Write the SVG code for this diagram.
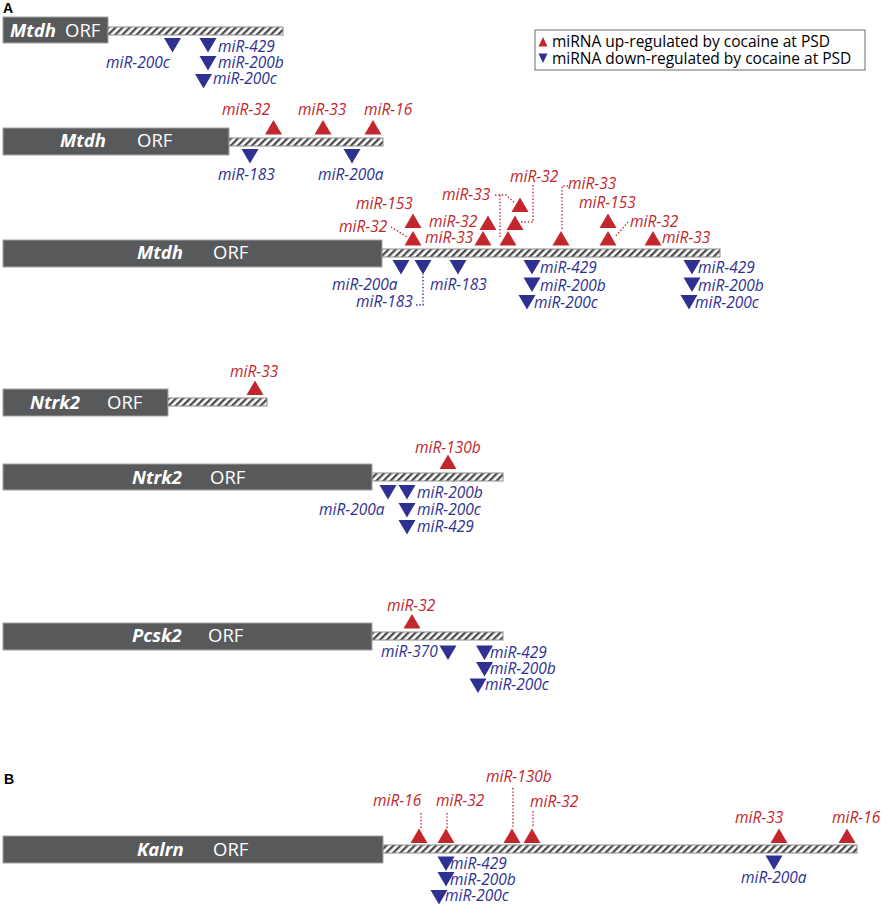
<svg xmlns="http://www.w3.org/2000/svg" xmlns:xlink="http://www.w3.org/1999/xlink" width="886" height="910" viewBox="0 0 886 910">
<defs>
<pattern id="hatch" patternUnits="userSpaceOnUse" width="5" height="5" patternTransform="rotate(45)">
<rect width="5" height="5" fill="#ffffff"/>
<rect width="2.3" height="5" fill="#4a4a4a"/>
</pattern>
<path id="tu" d="M-8.5,0H8.5L0,-14.5Z"/>
<path id="td" d="M-8.5,0H8.5L0,14.5Z"/>
<path id="su" d="M-4.5,0H4.5L0,-9.5Z"/>
<path id="sd" d="M-4.5,0H4.5L0,9.5Z"/>
</defs>
<style>
.orf{fill:#58595b;stroke:#a3a3a3;stroke-width:1}
.utr{fill:url(#hatch);stroke:#8c8c8c;stroke-width:1}
.up{fill:#c1272d}
.dn{fill:#2e3192}
.rt{fill:#c1272d;font-family:'Open Sans','Liberation Sans',sans-serif;font-style:italic;font-size:15.5px}
.bt{fill:#2e3192;font-family:'Open Sans','Liberation Sans',sans-serif;font-style:italic;font-size:15.5px}
.gn{fill:#ffffff;font-family:'Open Sans','Liberation Sans',sans-serif;font-style:italic;font-weight:bold;font-size:18.5px}
.ot{fill:#ffffff;font-family:'Open Sans','Liberation Sans',sans-serif;font-size:18.5px}
.lt{fill:#000000;font-family:'Open Sans','Liberation Sans',sans-serif;font-size:15.5px}
.pl{fill:#000000;font-family:'Liberation Sans',sans-serif;font-weight:bold;font-size:14px}
.dr{stroke:#c1272d;stroke-width:1.4;stroke-dasharray:1.4 2;fill:none}
.db{stroke:#2e3192;stroke-width:1.4;stroke-dasharray:1.4 2;fill:none}
</style>
<rect width="886" height="910" fill="#ffffff"/>

<text class="pl" x="3" y="13">A</text>
<text class="pl" x="4" y="784">B</text>

<g id="legend">
<rect x="535" y="30" width="330" height="40" fill="#ffffff" stroke="#6d6d6d" stroke-width="1"/>
<use href="#su" x="543" y="46.5" class="up"/>
<text class="lt" x="552" y="47">miRNA up-regulated by cocaine at PSD</text>
<use href="#sd" x="543" y="53.5" class="dn"/>
<text class="lt" x="552" y="64">miRNA down-regulated by cocaine at PSD</text>
</g>

<g id="mtdh1">
<rect class="orf" x="3" y="17" width="105" height="26"/>
<rect class="utr" x="108" y="27" width="175" height="8"/>
<text class="gn" x="10" y="37">Mtdh</text>
<text class="ot" x="65" y="37">ORF</text>
<use href="#td" x="172.5" y="38" class="dn"/>
<use href="#td" x="208" y="38" class="dn"/>
<use href="#td" x="208" y="56" class="dn"/>
<use href="#td" x="203.5" y="74" class="dn"/>
<text class="bt" x="106" y="68">miR-200c</text>
<text class="bt" x="218" y="52">miR-429</text>
<text class="bt" x="218" y="68">miR-200b</text>
<text class="bt" x="213" y="84">miR-200c</text>
</g>

<g id="mtdh2">
<rect class="orf" x="3" y="128" width="226" height="27"/>
<rect class="utr" x="229" y="138" width="154" height="8"/>
<text class="gn" x="60" y="147">Mtdh</text>
<text class="ot" x="137" y="147">ORF</text>
<use href="#tu" x="273.5" y="134.5" class="up"/>
<use href="#tu" x="323" y="134.5" class="up"/>
<use href="#tu" x="373" y="134.5" class="up"/>
<text class="rt" x="222" y="115">miR-32</text>
<text class="rt" x="298" y="115">miR-33</text>
<text class="rt" x="364" y="115">miR-16</text>
<use href="#td" x="250" y="149" class="dn"/>
<use href="#td" x="352" y="149" class="dn"/>
<text class="bt" x="218" y="180">miR-183</text>
<text class="bt" x="318" y="180">miR-200a</text>
</g>

<g id="mtdh3">
<rect class="orf" x="3" y="240" width="379" height="27"/>
<rect class="utr" x="382" y="249" width="338" height="8"/>
<text class="gn" x="137" y="259">Mtdh</text>
<text class="ot" x="213" y="259">ORF</text>
<use href="#tu" x="413" y="245.5" class="up"/>
<use href="#tu" x="413" y="228" class="up"/>
<use href="#tu" x="488" y="230" class="up"/>
<use href="#tu" x="483" y="245.5" class="up"/>
<use href="#tu" x="508" y="245.5" class="up"/>
<use href="#tu" x="520" y="212" class="up"/>
<use href="#tu" x="515" y="230" class="up"/>
<use href="#tu" x="561" y="245.5" class="up"/>
<use href="#tu" x="608" y="228" class="up"/>
<use href="#tu" x="608" y="245.5" class="up"/>
<use href="#tu" x="653" y="245.5" class="up"/>
<text class="rt" x="356" y="209">miR-153</text>
<text class="rt" x="339" y="232">miR-32</text>
<text class="rt" x="429" y="227">miR-32</text>
<text class="rt" x="425" y="243">miR-33</text>
<text class="rt" x="442" y="200">miR-33</text>
<text class="rt" x="510" y="182">miR-32</text>
<text class="rt" x="568" y="189">miR-33</text>
<text class="rt" x="579" y="208">miR-153</text>
<text class="rt" x="630" y="227">miR-32</text>
<text class="rt" x="662" y="243">miR-33</text>
<use href="#td" x="401" y="260" class="dn"/>
<use href="#td" x="423" y="260" class="dn"/>
<use href="#td" x="458" y="260" class="dn"/>
<use href="#td" x="532" y="260" class="dn"/>
<use href="#td" x="532" y="277.5" class="dn"/>
<use href="#td" x="527" y="295" class="dn"/>
<use href="#td" x="692" y="260" class="dn"/>
<use href="#td" x="692" y="277.5" class="dn"/>
<use href="#td" x="689" y="295" class="dn"/>
<text class="bt" x="332" y="290">miR-200a</text>
<text class="bt" x="356" y="307">miR-183</text>
<text class="bt" x="430" y="290">miR-183</text>
<text class="bt" x="540" y="273">miR-429</text>
<text class="bt" x="540" y="291">miR-200b</text>
<text class="bt" x="534" y="308">miR-200c</text>
<text class="bt" x="698" y="273">miR-429</text>
<text class="bt" x="698" y="291">miR-200b</text>
<text class="bt" x="695" y="308">miR-200c</text>
</g>

<g id="ntrk2a">
<rect class="orf" x="3" y="389" width="165" height="27"/>
<rect class="utr" x="168" y="398" width="99" height="8"/>
<text class="gn" x="30" y="409">Ntrk2</text>
<text class="ot" x="107" y="409">ORF</text>
<use href="#tu" x="255" y="395" class="up"/>
<text class="rt" x="230" y="377">miR-33</text>
</g>

<g id="ntrk2b">
<rect class="orf" x="3" y="464" width="369" height="26"/>
<rect class="utr" x="372" y="473" width="131" height="8"/>
<text class="gn" x="132" y="484">Ntrk2</text>
<text class="ot" x="210" y="484">ORF</text>
<use href="#tu" x="448" y="469" class="up"/>
<text class="rt" x="415" y="453">miR-130b</text>
<use href="#td" x="388" y="485" class="dn"/>
<use href="#td" x="407" y="485" class="dn"/>
<use href="#td" x="407" y="503" class="dn"/>
<use href="#td" x="407" y="520" class="dn"/>
<text class="bt" x="417" y="498">miR-200b</text>
<text class="bt" x="417" y="515">miR-200c</text>
<text class="bt" x="417" y="532">miR-429</text>
<text class="bt" x="319" y="515">miR-200a</text>
</g>

<g id="pcsk2">
<rect class="orf" x="3" y="623" width="369" height="27"/>
<rect class="utr" x="372" y="632" width="131" height="8"/>
<text class="gn" x="132" y="642">Pcsk2</text>
<text class="ot" x="208" y="642">ORF</text>
<use href="#tu" x="412" y="628.5" class="up"/>
<text class="rt" x="387" y="611">miR-32</text>
<use href="#td" x="448" y="645.5" class="dn"/>
<text class="bt" x="381" y="657">miR-370</text>
<use href="#td" x="484.5" y="645.5" class="dn"/>
<use href="#td" x="484.5" y="662" class="dn"/>
<use href="#td" x="478" y="678.5" class="dn"/>
<text class="bt" x="490" y="658">miR-429</text>
<text class="bt" x="490" y="674">miR-200b</text>
<text class="bt" x="485" y="690">miR-200c</text>
</g>

<g id="kalrn">
<rect class="orf" x="3" y="836" width="380" height="27"/>
<rect class="utr" x="383" y="845" width="474" height="8"/>
<text class="gn" x="137" y="856">Kalrn</text>
<text class="ot" x="213" y="856">ORF</text>
<use href="#tu" x="419" y="843" class="up"/>
<use href="#tu" x="446" y="843" class="up"/>
<use href="#tu" x="512" y="843" class="up"/>
<use href="#tu" x="532" y="843" class="up"/>
<use href="#tu" x="779" y="843" class="up"/>
<use href="#tu" x="847" y="843" class="up"/>
<text class="rt" x="373" y="806">miR-16</text>
<text class="rt" x="436" y="806">miR-32</text>
<text class="rt" x="486" y="782">miR-130b</text>
<text class="rt" x="530" y="807">miR-32</text>
<text class="rt" x="735" y="823">miR-33</text>
<text class="rt" x="832" y="823">miR-16</text>
<use href="#td" x="446" y="856.5" class="dn"/>
<use href="#td" x="446" y="872" class="dn"/>
<use href="#td" x="439" y="890" class="dn"/>
<use href="#td" x="774" y="855.5" class="dn"/>
<text class="bt" x="450" y="869">miR-429</text>
<text class="bt" x="450" y="885">miR-200b</text>
<text class="bt" x="445" y="901">miR-200c</text>
<text class="bt" x="741" y="883">miR-200a</text>
</g>

<g id="connectors">
<path class="dr" d="M391,227 L407,237"/>
<path class="dr" d="M495,195 H506 L515,203"/>
<path class="dr" d="M500,195 V237"/>
<path class="dr" d="M533,185 V222 H521"/>
<path class="dr" d="M568,186 H562 V231"/>
<path class="dr" d="M628,222 L615,237"/>
<path class="db" d="M416,305 H423 V274"/>
<path class="dr" d="M421,813 V828"/>
<path class="dr" d="M447,813 V828"/>
<path class="dr" d="M513,788 V828"/>
<path class="dr" d="M533,811 V828"/>
</g>
</svg>
